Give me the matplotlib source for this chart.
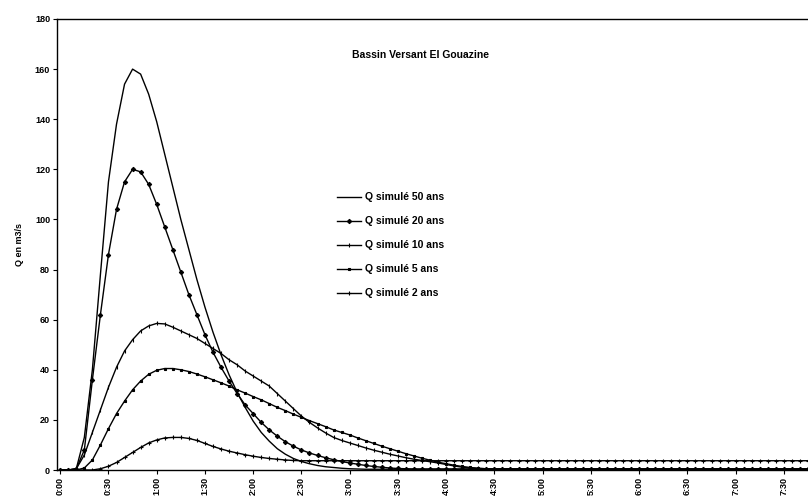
import matplotlib
matplotlib.use("Agg")
import matplotlib.pyplot as plt
import numpy as np

plt.rcParams['font.family'] = ['Liberation Sans', 'DejaVu Sans']

# time step in minutes (5-minute steps from 0:00)
step_min = 5
tick_minutes = [0, 30, 60, 90, 120, 150, 180, 210, 240, 270, 300, 330, 360, 390, 420, 450]
tick_labels = ["0:00", "0:30", "1:00", "1:30", "2:00", "2:30", "3:00", "3:30",
               "4:00", "4:30", "5:00", "5:30", "6:00", "6:30", "7:00", "7:30"]

q50 = [0, 0, 0.5, 13, 40, 78, 115, 138, 154, 160,
       158, 150, 139, 126, 113, 100, 88, 76, 65, 55,
       46, 38, 31, 25, 19.5, 15, 11.5, 8.5, 6.3, 4.6,
       3.4, 2.5, 1.8, 1.3, 1.0, 0.7, 0.5, 0.4, 0.3, 0.3,
       0.3, 0.3, 0.3, 0.3, 0.3, 0.3, 0.3, 0.3, 0.3, 0.3,
       0.3, 0.3, 0.3, 0.3, 0.3, 0.3, 0.3, 0.3, 0.3, 0.3,
       0.3, 0.3, 0.3, 0.3, 0.3, 0.3, 0.3, 0.3, 0.3, 0.3,
       0.3, 0.3, 0.3, 0.3, 0.3, 0.3, 0.3, 0.3, 0.3, 0.3,
       0.3, 0.3, 0.3, 0.3, 0.3, 0.3, 0.3, 0.3, 0.3, 0.3,
       0.3, 0.3, 0.3, 0.3]

q20 = [0, 0, 0.5, 8, 36, 62, 86, 104, 115, 120,
       119, 114, 106, 97, 88, 79, 70, 62, 54, 47,
       41, 35.5, 30.5, 26, 22.5, 19, 16, 13.5, 11.3, 9.5,
       8, 6.8, 5.8, 4.9, 4.1, 3.4, 2.8, 2.3, 1.8, 1.4,
       1.1, 0.8, 0.6, 0.5, 0.4, 0.4, 0.4, 0.4, 0.4, 0.4,
       0.4, 0.4, 0.4, 0.4, 0.4, 0.4, 0.4, 0.4, 0.4, 0.4,
       0.4, 0.4, 0.4, 0.4, 0.4, 0.4, 0.4, 0.4, 0.4, 0.4,
       0.4, 0.4, 0.4, 0.4, 0.4, 0.4, 0.4, 0.4, 0.4, 0.4,
       0.4, 0.4, 0.4, 0.4, 0.4, 0.4, 0.4, 0.4, 0.4, 0.4,
       0.4, 0.4, 0.4, 0.4]

q10 = [0, 0, 0.5, 6, 15, 24, 33, 41, 47.5, 52,
       55.5, 57.5, 58.5, 58.3, 57, 55.5, 54, 52.5, 50.5, 48.5,
       46.5, 44, 42, 39.5, 37.5, 35.5, 33.5, 30.5, 27.5, 24.5,
       21.5, 19, 16.8, 14.8, 13, 11.8, 10.8, 9.8, 8.8, 7.9,
       7.1, 6.3, 5.6, 4.9, 4.3, 3.8, 3.3, 2.8, 2.2, 1.6,
       1.1, 0.8, 0.6, 0.5, 0.4, 0.4, 0.4, 0.4, 0.4, 0.4,
       0.4, 0.4, 0.4, 0.4, 0.4, 0.4, 0.4, 0.4, 0.4, 0.4,
       0.4, 0.4, 0.4, 0.4, 0.4, 0.4, 0.4, 0.4, 0.4, 0.4,
       0.4, 0.4, 0.4, 0.4, 0.4, 0.4, 0.4, 0.4, 0.4, 0.4,
       0.4, 0.4, 0.4, 0.4]

q5 = [0, 0, 0, 0.8, 4, 10, 16.5, 22.5, 27.5, 32,
      35.5, 38.2, 39.8, 40.5, 40.5, 40, 39.3, 38.3, 37.2, 36,
      34.8, 33.5, 32, 30.7, 29.3, 28, 26.5, 25, 23.7, 22.3,
      21, 19.7, 18.5, 17.3, 16, 15, 14, 12.8, 11.7, 10.6,
      9.5, 8.5, 7.5, 6.5, 5.6, 4.7, 3.9, 3.1, 2.5, 1.9,
      1.4, 1.0, 0.7, 0.5, 0.4, 0.4, 0.4, 0.4, 0.4, 0.4,
      0.4, 0.4, 0.4, 0.4, 0.4, 0.4, 0.4, 0.4, 0.4, 0.4,
      0.4, 0.4, 0.4, 0.4, 0.4, 0.4, 0.4, 0.4, 0.4, 0.4,
      0.4, 0.4, 0.4, 0.4, 0.4, 0.4, 0.4, 0.4, 0.4, 0.4,
      0.4, 0.4, 0.4, 0.4]

q2 = [0, 0, 0, 0, 0, 0.5, 1.5, 3, 5, 7,
      9, 10.8, 12, 12.8, 13, 13, 12.6, 11.8, 10.6, 9.4,
      8.4, 7.5, 6.8, 6.1, 5.5, 5.0, 4.6, 4.3, 4.0, 3.8,
      3.7, 3.7, 3.7, 3.7, 3.7, 3.7, 3.7, 3.7, 3.7, 3.7,
      3.7, 3.7, 3.7, 3.7, 3.7, 3.7, 3.7, 3.7, 3.7, 3.7,
      3.7, 3.7, 3.7, 3.7, 3.7, 3.7, 3.7, 3.7, 3.7, 3.7,
      3.7, 3.7, 3.7, 3.7, 3.7, 3.7, 3.7, 3.7, 3.7, 3.7,
      3.7, 3.7, 3.7, 3.7, 3.7, 3.7, 3.7, 3.7, 3.7, 3.7,
      3.7, 3.7, 3.7, 3.7, 3.7, 3.7, 3.7, 3.7, 3.7, 3.7,
      3.7, 3.7, 3.7, 3.7]

series = [
    ("Q simulé 50 ans", q50, None, 0),
    ("Q simulé 20 ans", q20, 'D', 2.2),
    ("Q simulé 10 ans", q10, '|', 3.0),
    ("Q simulé 5 ans", q5, 's', 2.0),
    ("Q simulé 2 ans", q2, '+', 3.0),
]

fig = plt.figure(figsize=(8.08, 5.03), dpi=100)
ax = fig.add_axes([57/808, (503-470)/503, (808-57)/808, (470-19)/503])

t = np.arange(len(q50)) * step_min
for label, vals, mk, ms in series:
    ax.plot(t, vals, color='black', linewidth=1.0, marker=mk, markersize=ms,
            markeredgewidth=0.8, label=label)

ax.set_xlim(-2, 465)
ax.set_ylim(0, 180)
ax.set_yticks(range(0, 181, 20))
ax.set_xticks(tick_minutes)
ax.set_xticklabels(tick_labels, rotation=90)
for lab in ax.get_xticklabels() + ax.get_yticklabels():
    lab.set_fontsize(6.5)
    lab.set_fontweight('bold')
ax.tick_params(axis='both', length=3, width=0.8, pad=2)

for s in ['right']:
    ax.spines[s].set_visible(False)
for s in ['left', 'bottom', 'top']:
    ax.spines[s].set_linewidth(1.0)

ax.set_ylabel("Q en m3/s", fontsize=6.5, fontweight='bold', labelpad=8)

fig.text(420/808, 1 - 55/503, "Bassin Versant El Gouazine", ha='center', va='center',
         fontsize=7.5, fontweight='bold')

leg = ax.legend(loc='upper left', bbox_to_anchor=(333/808, 1 - 188/503),
                bbox_transform=fig.transFigure, frameon=False,
                prop={'size': 7.5, 'weight': 'bold'}, handlelength=2.3,
                handletextpad=0.4, labelspacing=1.35, borderaxespad=0)

fig.savefig("out.png", dpi=100)
